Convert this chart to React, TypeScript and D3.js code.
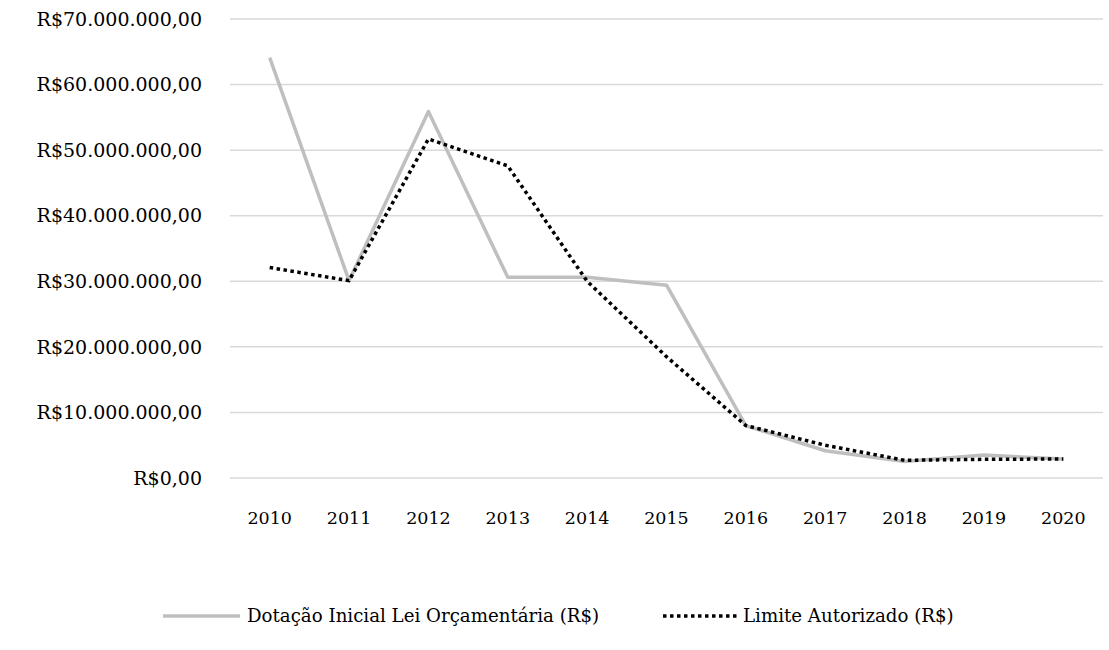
import React from 'react'
import * as d3 from 'd3'

const years = ['2010', '2011', '2012', '2013', '2014', '2015', '2016', '2017', '2018', '2019', '2020']
const dotacao = [64.1, 30.1, 55.9, 30.6, 30.6, 29.4, 8.0, 4.15, 2.5, 3.5, 2.9]
const limite = [32.1, 30.1, 51.7, 47.6, 30.0, 18.5, 8.0, 5.0, 2.7, 2.85, 2.9]
const yTicks = [0, 10, 20, 30, 40, 50, 60, 70]
const seriesNames = ['Dotação Inicial Lei Orçamentária (R$)', 'Limite Autorizado (R$)']

const W = 1109
const H = 650
const FONT = '"DejaVu Serif", serif'

const fmt = (v: number) => {
  const n = Math.round(v * 1e6)
  const s = n.toString().replace(/\B(?=(\d{3})+(?!\d))/g, '.')
  return `R$${s},00`
}

export default function App() {
  const x = d3.scaleBand<string>().domain(years).range([230, 1103])
  const y = d3.scaleLinear().domain([0, 70]).range([478, 19])
  const cx = (d: string) => (x(d) || 0) + x.bandwidth() / 2

  const line = d3.line<number>()
    .x((_, i) => cx(years[i]))
    .y((d) => y(d))

  return (
    <svg width={W} height={H} style={{ position: 'absolute', left: 0, top: 0, background: '#fff' }}>
      {yTicks.map((t) => (
        <g key={t}>
          <line x1={230} x2={1103} y1={y(t)} y2={y(t)} stroke="#d9d9d9" strokeWidth={1.5} />
          <text x={202} y={y(t)} dy="0.35em" textAnchor="end" fontFamily={FONT} fontSize={19} fill="#000">
            {fmt(t)}
          </text>
        </g>
      ))}
      {years.map((d) => (
        <text key={d} x={cx(d)} y={524} textAnchor="middle" fontFamily={FONT} fontSize={17.5} fill="#000">
          {d}
        </text>
      ))}
      <path d={line(dotacao) || ''} fill="none" stroke="#bfbfbf" strokeWidth={3.5} strokeLinejoin="round" />
      <path d={line(limite) || ''} fill="none" stroke="#000" strokeWidth={3.5} strokeDasharray="3.5 3.5" />

      <line x1={163} x2={240} y1={616} y2={616} stroke="#bfbfbf" strokeWidth={3.5} />
      <text x={247} y={616} dy="0.35em" fontFamily={FONT} fontSize={18.2} fill="#000">{seriesNames[0]}</text>
      <line x1={663} x2={737} y1={616} y2={616} stroke="#000" strokeWidth={3.5} strokeDasharray="3.5 3.5" />
      <text x={743} y={616} dy="0.35em" fontFamily={FONT} fontSize={18.2} fill="#000">{seriesNames[1]}</text>
    </svg>
  )
}
